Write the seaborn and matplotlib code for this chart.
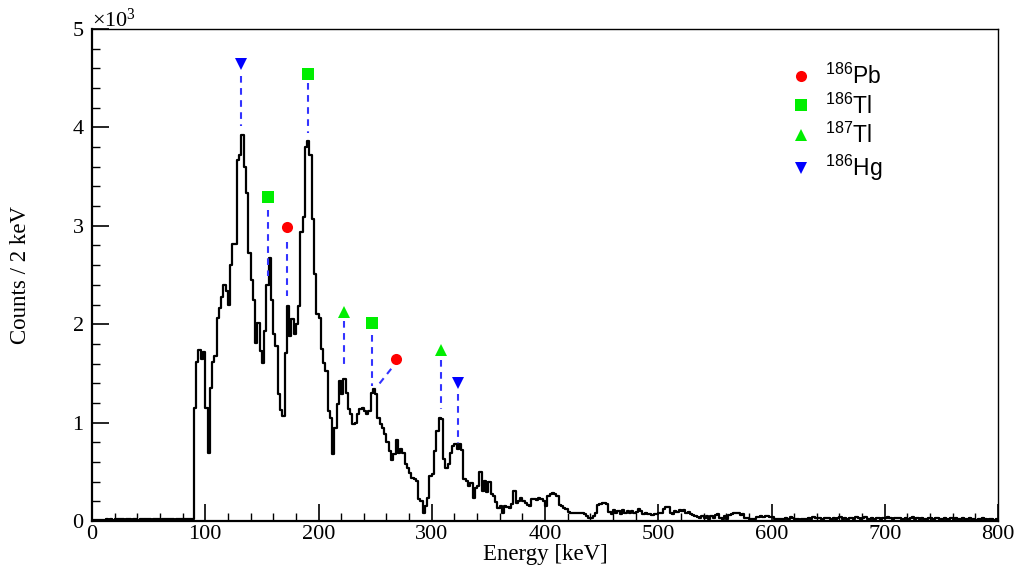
import numpy as np
import pandas as pd
import matplotlib
matplotlib.use("Agg")
import matplotlib.pyplot as plt
import seaborn as sns
from matplotlib.lines import Line2D
from matplotlib.ticker import MultipleLocator, FuncFormatter

# ---------------- data (counts per 2 keV bin) ----------------
BIN_WIDTH = 2
seg_start = [0, 90, 220, 342, 504, 650]

counts_0_88 = [8, 10, 12, 9, 14, 12, 18, 15, 20, 14, 17, 22, 16, 19, 13,
               21, 18, 15, 20, 17, 14, 19, 22, 16, 18, 20, 15, 17, 21, 19,
               14, 18, 16, 20, 23, 17, 15, 19, 21, 18, 16, 20, 22, 19, 24]

counts_90_218 = [1150, 1620, 1740, 1650, 1720, 1150, 690, 1350, 1620, 1680,
                 2060, 2160, 2280, 2400, 2340, 2200, 2600, 2810, 2810, 3670,
                 3720, 3920, 3600, 3330, 2720, 2450, 2250, 1810, 2010, 1730,
                 1610, 1930, 2400, 2670, 2250, 1900, 1780, 1290, 1130, 1070,
                 1710, 2180, 1880, 2050, 1900, 2000, 2180, 2940, 3090, 3800,
                 3860, 3720, 3070, 2510, 2100, 2065, 1745, 1610, 1525, 1117,
                 1050, 680, 950, 1185, 1420]

counts_220_340 = [1290, 1440, 1300, 1134, 1083, 982, 999, 1083, 1141, 1151,
                  1117, 1083, 1117, 1303, 1337, 1286, 1050, 990, 950, 880,
                  800, 711, 620, 680, 822, 690, 728, 694, 576, 540,
                  491, 440, 423, 406, 220, 203, 85, 152, 237, 457,
                  474, 711, 914, 1050, 1040, 626, 542, 576, 694, 762,
                  779, 728, 779, 721, 423, 406, 355, 389, 237, 338,
                  355]

counts_342_502 = [500, 300, 410, 290, 400, 270, 255, 190, 135, 150,
                  85, 150, 145, 135, 170, 305, 187, 200, 238, 203,
                  180, 159, 150, 227, 220, 210, 238, 220, 203, 150,
                  250, 278, 288, 278, 254, 159, 150, 136, 119, 91,
                  85, 85, 85, 85, 78, 85, 75, 51, 35, 35,
                  51, 85, 159, 170, 180, 187, 170, 91, 68, 112,
                  85, 102, 68, 112, 85, 102, 85, 102, 85, 91,
                  126, 102, 68, 85, 68, 68, 58, 68, 68, 85,
                  85]

counts_504_648 = [126, 146, 146, 85, 68, 102, 91, 112, 102, 112,
                  85, 91, 68, 58, 51, 41, 34, 51, 34, 51,
                  24, 51, 34, 58, 68, 34, 17, 51, 24, 58,
                  68, 85, 78, 78, 58, 68, 34, 34, 24, 17,
                  24, 41, 41, 51, 41, 51, 51, 44, 41, 24,
                  24, 17, 24, 17, 34, 24, 44, 34, 17, 24,
                  10, 17, 17, 24, 34, 24, 44, 34, 34, 34,
                  24, 34, 34]

counts_650_798 = [30, 24, 34, 20, 28, 40, 22, 30, 18, 35,
                  26, 20, 38, 28, 22, 30, 45, 25, 18, 30,
                  22, 35, 28, 20, 32, 26, 40, 30, 22, 28,
                  35, 30, 25, 20, 32, 24, 30, 38, 22, 27,
                  20, 30, 24, 18, 28, 34, 22, 26, 30, 20,
                  24, 28, 18, 22, 30, 20, 26, 16, 24, 28,
                  18, 22, 30, 20, 24, 15, 22, 18, 26, 20,
                  14, 24, 18, 12, 20]

segments = [counts_0_88, counts_90_218, counts_220_340,
            counts_342_502, counts_504_648, counts_650_798]
seg_end = seg_start[1:] + [800]
for s, e, seg in zip(seg_start, seg_end, segments):
    assert len(seg) == (e - s) // BIN_WIDTH, (s, e, len(seg))

energy, counts = [], []
for s, seg in zip(seg_start, segments):
    for i, v in enumerate(seg):
        energy.append(s + BIN_WIDTH * i + BIN_WIDTH / 2)
        counts.append(v)
df = pd.DataFrame({"energy": energy, "counts": counts})

# isotope annotations
iso_names = ["186Pb", "186Tl", "187Tl", "186Hg"]
iso_labels = [r"$^{186}$Pb", r"$^{186}$Tl", r"$^{187}$Tl", r"$^{186}$Hg"]
iso_marker = ["o", "s", "^", "v"]
iso_color = ["#ff0000", "#00ee00", "#00ee00", "#0000ff"]

ann_iso = ["186Hg", "186Tl", "186Pb", "186Tl", "187Tl", "186Tl", "186Pb", "187Tl", "186Hg"]
ann_E = [132, 155, 172.5, 190.5, 222.5, 247, 268, 308, 323.5]
ann_y = [4640, 3290, 2990, 4545, 2125, 2015, 1650, 1740, 1400]
line_top_E = [132, 155, 172.5, 190.5, 222.5, 247, 264.2, 308, 323.5]
line_top_y = [4520, 3165, 2840, 4450, 2030, 1895, 1547, 1635, 1286]
line_bot_E = [132, 155, 172.5, 190.5, 222.5, 247, 250.9, 308, 323.5]
line_bot_y = [4010, 2485, 2285, 3945, 1540, 1370, 1354, 1134, 796]

# ---------------- styling ----------------
sns.set_theme(style="ticks")
plt.rcParams["font.family"] = ["Liberation Serif", "DejaVu Serif"]
plt.rcParams["mathtext.default"] = "regular"
for key in ["text.color", "axes.labelcolor", "xtick.color", "ytick.color",
            "axes.edgecolor"]:
    plt.rcParams[key] = "black"

fig = plt.figure(figsize=(10.18, 5.76), dpi=100)
ax = fig.add_axes([92 / 1018, 55 / 576, 906 / 1018, 492 / 576])

sns.histplot(data=df, x="energy", weights="counts", binwidth=BIN_WIDTH,
             binrange=(0, 800), element="step", fill=False, color="black",
             linewidth=1.6, ax=ax, legend=False)

for e0, y0, e1, y1 in zip(line_top_E, line_top_y, line_bot_E, line_bot_y):
    ax.plot([e0, e1], [y0, y1], color="#3333ff", linestyle=(0, (3.2, 2.6)),
            linewidth=1.5, zorder=3)

for iso, mk, col in zip(iso_names, iso_marker, iso_color):
    xs = [e for e, n in zip(ann_E, ann_iso) if n == iso]
    ys = [y for y, n in zip(ann_y, ann_iso) if n == iso]
    ax.plot(xs, ys, linestyle="none", marker=mk, color=col,
            markersize=8, markeredgewidth=0, zorder=4)

ax.set_xlim(0, 800)
ax.set_ylim(0, 5000)
ax.xaxis.set_major_locator(MultipleLocator(100))
ax.xaxis.set_minor_locator(MultipleLocator(20))
ax.yaxis.set_major_locator(MultipleLocator(1000))
ax.yaxis.set_minor_locator(MultipleLocator(200))
ax.yaxis.set_major_formatter(FuncFormatter(lambda v, p: f"{v/1000:g}"))
ax.tick_params(which="major", direction="in", length=12, width=1.2,
               labelsize=16, colors="black", pad=3)
ax.tick_params(axis="y", which="major", pad=6)
ax.tick_params(which="minor", direction="in", length=6, width=1.0)
ax.tick_params(axis="x", which="both", top=False)
ax.tick_params(axis="y", which="both", right=False)
for side in ["top", "right"]:
    ax.spines[side].set_linewidth(1.0)
for side in ["bottom", "left"]:
    ax.spines[side].set_linewidth(1.6)

ax.set_xlabel("Energy [keV]", fontsize=16.5, labelpad=0)
ax.set_ylabel("Counts / 2 keV", fontsize=16.5, labelpad=30)
ax.text(0.0, 0.995, r"$\times10^{3}$", transform=ax.transAxes, fontsize=16,
        ha="left", va="bottom")

handles = [Line2D([], [], linestyle="none", marker=mk, color=col,
                  markersize=8, markeredgewidth=0)
           for mk, col in zip(iso_marker, iso_color)]
leg = ax.legend(handles, iso_labels, loc="upper left",
                bbox_to_anchor=(778 / 1018, 1 - 52 / 576),
                bbox_transform=fig.transFigure, frameon=False,
                handlelength=1.0, handletextpad=0.55, labelspacing=0.2,
                borderpad=0, prop={"family": "Liberation Sans", "size": 16.5})

fig.savefig("out.png", dpi=100)
